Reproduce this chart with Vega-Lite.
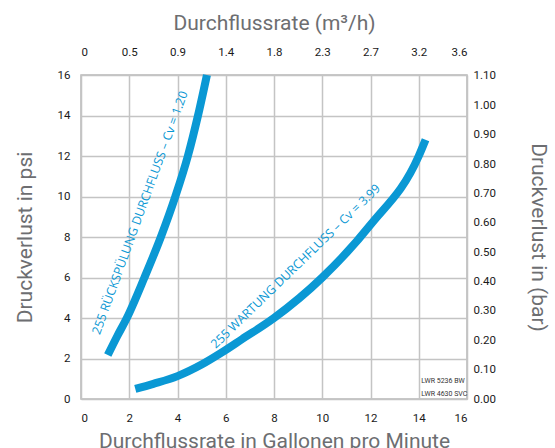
{
  "$schema": "https://vega.github.io/schema/vega-lite/v6.json",
  "padding": {"left": 13, "top": 12, "right": 5, "bottom": 2},
  "background": "white",
  "columns": 2,
  "spacing": 0,
  "align": "each",
  "bounds": "full",
  "config": {
    "view": {"stroke": "#b8b8b8", "strokeWidth": 1.5},
    "axis": {
      "domain": false,
      "ticks": false,
      "labelFont": "Roboto",
      "labelFontSize": 11.5,
      "labelColor": "#1a1a1a",
      "titleFont": "Roboto",
      "titleFontSize": 21,
      "titleFontWeight": "normal",
      "titleColor": "#6d6e71",
      "gridColor": "#c4c4c4",
      "gridWidth": 1.5
    }
  },
  "datasets": {
    "curves": [
      {"series": "Rückspülung", "gpm": 1.11, "psi": 2.17},
      {"series": "Rückspülung", "gpm": 1.5, "psi": 3.1},
      {"series": "Rückspülung", "gpm": 1.9, "psi": 4.0},
      {"series": "Rückspülung", "gpm": 2.63, "psi": 6.0},
      {"series": "Rückspülung", "gpm": 3.31, "psi": 8.0},
      {"series": "Rückspülung", "gpm": 3.91, "psi": 10.0},
      {"series": "Rückspülung", "gpm": 4.43, "psi": 12.0},
      {"series": "Rückspülung", "gpm": 4.85, "psi": 14.0},
      {"series": "Rückspülung", "gpm": 5.22, "psi": 16.0},
      {"series": "Wartung", "gpm": 2.25, "psi": 0.5},
      {"series": "Wartung", "gpm": 3.0, "psi": 0.75},
      {"series": "Wartung", "gpm": 4.0, "psi": 1.13},
      {"series": "Wartung", "gpm": 5.0, "psi": 1.7},
      {"series": "Wartung", "gpm": 5.84, "psi": 2.3},
      {"series": "Wartung", "gpm": 6.67, "psi": 2.95},
      {"series": "Wartung", "gpm": 8.0, "psi": 4.0},
      {"series": "Wartung", "gpm": 10.0, "psi": 6.0},
      {"series": "Wartung", "gpm": 12.0, "psi": 8.6},
      {"series": "Wartung", "gpm": 14.0, "psi": 12.0},
      {"series": "Wartung", "gpm": 14.28, "psi": 12.8}
    ],
    "labels": [
      {"text": "255 RÜCKSPÜLUNG DURCHFLUSS – Cv = 1.20", "gpm": 2.45, "psi": 9.2, "angle": -70},
      {"text": "255 WARTUNG DURCHFLUSS – Cv = 3.99", "gpm": 8.9, "psi": 6.55, "angle": -44}
    ],
    "notes": [
      {"text": "LWR 5236  BW", "gpm": 14.1, "psi": 0.91},
      {"text": "LWR 4630 SVC", "gpm": 14.1, "psi": 0.27}
    ]
  },
  "concat": [
    {
      "width": 386,
      "height": 1,
      "view": {"stroke": null},
      "data": {"name": "curves"},
      "mark": {"type": "point", "opacity": 0, "size": 1},
      "encoding": {
        "x": {"field": "gpm", "type": "quantitative", "scale": {"domain": [0, 16], "nice": false},
          "axis": {"orient": "top", "values": [0, 2, 4, 6, 8, 10, 12, 14, 16], "grid": false, "offset": -17, "labelPadding": 0, "titlePadding": 13,
            "labelExpr": "datum.value == 0 ? '0' : format(datum.value * 0.22712, '.1f')",
            "title": "Durchflussrate (m³/h)"}}
      }
    },
    {
      "width": 1,
      "height": 1,
      "view": {"stroke": null},
      "data": {"name": "notes"},
      "mark": {"type": "point", "opacity": 0, "size": 1}
    },
    {
      "width": 386,
      "height": 324,
      "layer": [
        {
          "data": {"name": "curves"},
          "mark": {"type": "line", "strokeWidth": 8, "color": "#0a98d4", "interpolate": "monotone", "strokeCap": "butt"},
          "encoding": {
            "x": {"field": "gpm", "type": "quantitative", "scale": {"domain": [0, 16], "nice": false},
              "axis": {"orient": "bottom", "values": [0, 2, 4, 6, 8, 10, 12, 14, 16], "grid": true, "labelPadding": 13, "titlePadding": 7,
                "title": "Durchflussrate in Gallonen pro Minute"}},
            "y": {"field": "psi", "type": "quantitative", "scale": {"domain": [0, 16], "nice": false},
              "axis": {"orient": "left", "values": [0, 2, 4, 6, 8, 10, 12, 14, 16], "grid": true, "labelPadding": 11, "titlePadding": 22,
                "title": "Druckverlust in psi"}},
            "detail": {"field": "series"}
          }
        },
        {
          "data": {"name": "labels"},
          "mark": {"type": "text", "color": "#0a98d4", "font": "Open Sans", "fontSize": 12.3, "align": "center", "baseline": "middle"},
          "encoding": {
            "x": {"field": "gpm", "type": "quantitative"},
            "y": {"field": "psi", "type": "quantitative"},
            "text": {"field": "text"},
            "angle": {"field": "angle", "type": "quantitative", "scale": null}
          }
        },
        {
          "data": {"name": "notes"},
          "mark": {"type": "text", "color": "#333333", "font": "Roboto", "fontSize": 7, "align": "left", "baseline": "middle"},
          "encoding": {
            "x": {"field": "gpm", "type": "quantitative"},
            "y": {"field": "psi", "type": "quantitative"},
            "text": {"field": "text"}
          }
        }
      ]
    },
    {
      "width": 1,
      "height": 324,
      "view": {"stroke": null},
      "data": {"name": "curves"},
      "mark": {"type": "point", "opacity": 0, "size": 1},
      "encoding": {
        "y": {"field": "psi", "type": "quantitative", "scale": {"domain": [0, 16], "nice": false},
          "axis": {"orient": "right", "values": [0, 1.4504, 2.9008, 4.3511, 5.8015, 7.2519, 8.7023, 10.1526, 11.603, 13.0534, 14.5038, 15.9542],
            "grid": false, "labelPadding": 3, "titlePadding": 32,
            "labelExpr": "format(datum.value * 0.0689476, '.2f')",
            "title": "Druckverlust in (bar)"}}
      }
    }
  ]
}
